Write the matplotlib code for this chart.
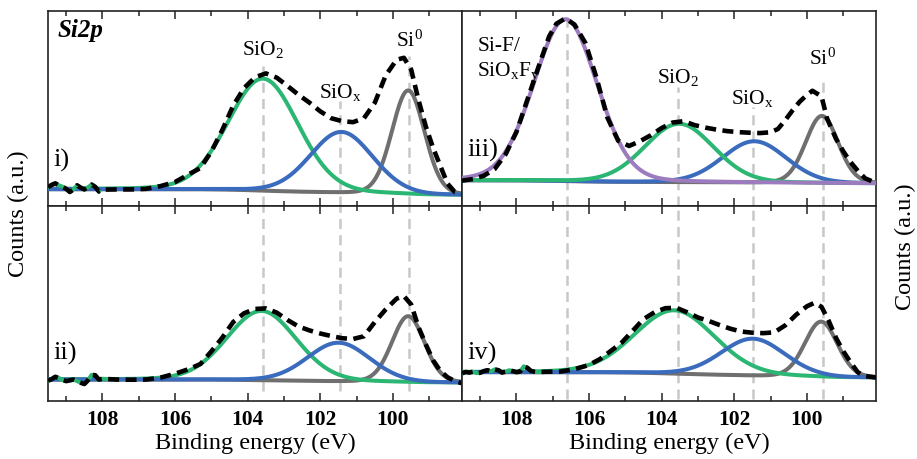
import numpy as np
import matplotlib
matplotlib.use("Agg")
import matplotlib.pyplot as plt
from matplotlib.ticker import MultipleLocator

plt.rcParams["font.family"] = ["Liberation Serif", "DejaVu Serif"]
plt.rcParams["mathtext.fontset"] = "custom"
plt.rcParams["mathtext.rm"] = "Liberation Serif"
plt.rcParams["mathtext.it"] = "Liberation Serif:italic"

# ---------------- measured spectra (binding energy in eV, counts in a.u.) ----------------
be_i = [109.5, 109.4, 109.3, 109.2, 109.1, 109.0, 108.9, 108.8, 108.7, 108.6, 108.5, 108.4,
        108.3, 108.2, 108.1, 108.0, 107.6, 107.2, 106.8, 106.4, 106.0, 105.6, 105.3, 105.0,
        104.7, 104.4, 104.1, 103.8, 103.5, 103.2, 102.9, 102.6, 102.3, 102.0, 101.7, 101.4,
        101.1, 100.8, 100.5, 100.2, 99.9, 99.7, 99.5, 99.3, 99.1, 98.9, 98.7, 98.5, 98.3, 98.1]
counts_i = [9.6, 10.8, 11.6, 10.6, 9.9, 8.8, 7.2, 8.5, 10.6, 9.4, 8.5, 9.6,
            11.0, 9.8, 7.5, 8.4, 8.5, 8.5, 8.8, 10.2, 12.3, 16.5, 19.5, 28.0,
            39.0, 51.5, 60.5, 66.0, 68.0, 65.8, 61.5, 57.0, 53.0, 48.5, 45.0, 43.5,
            43.0, 45.0, 53.0, 67.0, 75.0, 76.0, 70.0, 54.5, 41.0, 30.0, 20.7, 11.5, 7.2, 6.2]

be_ii = be_i
counts_ii = [10.4, 11.2, 12.4, 11.8, 10.8, 10.2, 10.6, 11.0, 10.2, 9.4, 8.7, 10.6,
             13.4, 13.2, 11.0, 11.4, 11.0, 10.9, 11.0, 12.0, 14.0, 16.5, 19.0, 25.5,
             32.5, 40.5, 45.0, 47.2, 47.5, 45.3, 41.5, 38.2, 36.2, 34.6, 33.3, 32.2,
             31.8, 33.2, 40.5, 47.0, 52.5, 53.8, 49.5, 38.0, 29.2, 21.0, 15.5, 12.2, 10.2, 9.1]

be_iii = [109.5, 109.2, 108.9, 108.6, 108.3, 108.0, 107.7, 107.4, 107.1, 106.9, 106.65, 106.4,
          106.1, 105.8, 105.5, 105.2, 104.9, 104.6, 104.3, 104.0, 103.7, 103.4, 103.1, 102.8,
          102.5, 102.2, 101.9, 101.6, 101.3, 101.0, 100.8, 100.6, 100.4, 100.2, 100.0, 99.85,
          99.6, 99.45, 99.2, 99.0, 98.8, 98.6, 98.4, 98.1]
counts_iii = [13.0, 13.8, 15.5, 19.0, 26.5, 38.0, 54.5, 71.0, 87.0, 93.5, 96.2, 93.0,
              83.5, 66.0, 45.5, 33.5, 30.8, 33.2, 36.3, 40.0, 42.8, 43.5, 41.5, 40.2,
              39.2, 38.4, 37.9, 37.6, 37.4, 37.8, 39.5, 44.0, 49.0, 53.5, 57.0, 59.1,
              56.2, 45.0, 34.4, 28.0, 22.5, 18.0, 14.2, 11.8]

be_iv = [109.5, 109.4, 109.3, 109.2, 109.1, 109.0, 108.9, 108.8, 108.7, 108.6, 108.5, 108.4,
         108.3, 108.2, 108.1, 108.0, 107.9, 107.8, 107.7, 107.6, 107.5, 107.4, 107.2, 106.8,
         106.4, 106.0, 105.7, 105.4, 105.1, 104.8, 104.5, 104.2, 103.9, 103.6, 103.3, 103.0,
         102.7, 102.4, 102.1, 101.8, 101.5, 101.2, 100.9, 100.6, 100.3, 100.0, 99.8, 99.6,
         99.4, 99.2, 99.0, 98.8, 98.6, 98.4, 98.1]
counts_iv = [14.2, 14.9, 14.6, 15.0, 14.3, 14.5, 15.3, 15.8, 15.2, 16.2, 15.8, 14.6,
             15.0, 15.8, 15.3, 14.8, 15.1, 17.8, 17.0, 15.4, 15.0, 14.8, 15.0, 15.1,
             16.3, 18.5, 21.5, 25.7, 30.0, 36.0, 42.0, 45.5, 47.6, 47.8, 45.5, 42.8,
             41.0, 38.9, 37.0, 35.6, 35.0, 34.8, 35.2, 38.8, 44.2, 48.6, 50.3, 48.3,
             41.0, 32.3, 25.5, 19.8, 14.7, 12.8, 12.0]

# ---------------- fitted components: centre (eV), height, FWHM (eV) ----------------
comp_names = ["SiF", "SiO2", "SiOx", "Si0"]
centres_i = [None, 103.58, 101.42, 99.58]
heights_i = [None, 57.5, 31.3, 53.3]
fwhm_i = [None, 2.28, 2.03, 1.06]
bg_i = (8.6, 5.6)          # background at high / low binding energy

centres_ii = [None, 103.62, 101.50, 99.58]
heights_ii = [None, 35.6, 19.9, 33.9]
fwhm_ii = [None, 2.26, 2.03, 1.06]
bg_ii = (11.0, 9.4)

centres_iii = [106.65, 103.52, 101.45, 99.59]
heights_iii = [83.0, 30.0, 21.3, 34.5]
fwhm_iii = [2.05, 2.24, 2.07, 1.06]
bg_iii = (13.2, 11.6)

centres_iv = [None, 103.65, 101.49, 99.61]
heights_iv = [None, 32.5, 19.0, 28.4]
fwhm_iv = [None, 2.60, 2.07, 1.06]
bg_iv = (14.8, 12.0)

# reference binding energies marked with dashed guides
ref_left = [103.58, 101.46, 99.55]
ref_right = [106.62, 103.54, 101.50, 99.57]

colors = {"SiF": "#9c7cbf", "SiO2": "#2bb673", "SiOx": "#3b6bbd", "Si0": "#6f6f70"}
guide_color = "#c8c8c8"
GL_MIX = 0.1


def pseudo_voigt(x, c, h, w):
    g = np.exp(-4 * np.log(2) * (x - c) ** 2 / w ** 2)
    l = 1.0 / (1.0 + 4 * (x - c) ** 2 / w ** 2)
    return h * ((1 - GL_MIX) * g + GL_MIX * l)


def shirley(x, total, hi, lo):
    order = np.argsort(x)
    cum = np.cumsum(total[order])
    cum = cum / cum[-1]
    frac = np.empty_like(cum)
    frac[order] = cum
    return lo + (hi - lo) * frac


fig = plt.figure(figsize=(9.17, 4.60), dpi=100)
L, M, R = 48 / 917, 462 / 917, 876 / 917
T, C, B = 1 - 12 / 460, 1 - 207 / 460, 1 - 402 / 460
ax_i = fig.add_axes([L, C, M - L, T - C])
ax_iii = fig.add_axes([M, C, R - M, T - C])
ax_ii = fig.add_axes([L, B, M - L, C - B])
ax_iv = fig.add_axes([M, B, R - M, C - B])

x = np.linspace(109.5, 98.1, 800)

order_lr = ["Si0", "SiO2", "SiOx"]
order_iii = ["Si0", "SiOx", "SiO2", "SiF"]

panels = [
    (ax_i, be_i, counts_i, centres_i, heights_i, fwhm_i, bg_i, "i)", 0.24, 108.1, order_lr),
    (ax_ii, be_ii, counts_ii, centres_ii, heights_ii, fwhm_ii, bg_ii, "ii)", 0.25, 107.45, order_lr),
    (ax_iii, be_iii, counts_iii, centres_iii, heights_iii, fwhm_iii, bg_iii, "iii)", 0.29, None, order_iii),
    (ax_iv, be_iv, counts_iv, centres_iv, heights_iv, fwhm_iv, bg_iv, "iv)", 0.25, 107.15, order_lr),
]

for ax, be, cnt, cen, hgt, fw, bg, tag, tag_y, noise_end, draw_order in panels:
    be = np.asarray(be)
    cnt = np.asarray(cnt)
    peaks = {}
    for name, c, h, w in zip(comp_names, cen, hgt, fw):
        if c is not None:
            peaks[name] = pseudo_voigt(x, c, h, w)
    total = sum(peaks.values())
    back = shirley(x, total, bg[0], bg[1])

    for name in draw_order:
        ax.plot(x, back + peaks[name], color=colors[name], lw=2.9,
                solid_capstyle="butt", zorder=3)
    if noise_end is not None:
        sel = be >= noise_end
        ax.plot(be[sel], cnt[sel], color=colors["SiO2"], lw=2.9, zorder=4)
    ax.plot(be, cnt, color="black", lw=3.3, ls=(0, (2.4, 1.4)), zorder=6)

    ax.set_xlim(109.5, 98.1)
    ax.set_ylim(0, 100)
    ax.set_yticks([])
    ax.xaxis.set_major_locator(MultipleLocator(2))
    ax.xaxis.set_minor_locator(MultipleLocator(1))
    ax.tick_params(axis="x", which="both", direction="in", top=True, bottom=True,
                   color="#222222", width=1.1)
    ax.tick_params(axis="x", which="major", length=5.5)
    ax.tick_params(axis="x", which="minor", length=3.5)
    for sp in ax.spines.values():
        sp.set_color("#222222")
        sp.set_linewidth(1.2)
    ax.text(0.012, tag_y, tag, transform=ax.transAxes, fontsize=19,
            ha="left", va="center", zorder=8)

# dashed guides: top panels start below the peak labels, bottom panels span the frame
guide_kw = dict(color=guide_color, lw=1.8, ls=(0, (4, 2.5)), zorder=2)
for xv, top in zip(ref_left, [72.8, 54.0, 77.0]):
    ax_i.plot([xv, xv], [0, top], **guide_kw)
    ax_ii.plot([xv, xv], [5, 100], **guide_kw)
for xv, top in zip(ref_right, [100.0, 61.0, 51.0, 63.6]):
    ax_iii.plot([xv, xv], [0, top], **guide_kw)
    ax_iv.plot([xv, xv], [1, 100], **guide_kw)

# peak labels
lab = dict(fontsize=15.5, ha="center", va="baseline", zorder=8)
ax_i.text(ref_left[0], 78.0, r"SiO$_2$", **lab)
ax_i.text(ref_left[1], 56.0, r"SiO$_\mathrm{x}$", **lab)
ax_i.text(ref_left[2], 82.0, r"Si$^0$", **lab)
ax_iii.text(109.08, 80.0, "Si-F/", fontsize=15.5, ha="left", va="baseline", zorder=8)
ax_iii.text(109.08, 67.0, r"SiO$_\mathrm{x}$F$_\mathrm{y}$", fontsize=15.5, ha="left",
            va="baseline", zorder=8)
ax_iii.text(ref_right[1], 63.6, r"SiO$_2$", **lab)
ax_iii.text(ref_right[2], 53.0, r"SiO$_\mathrm{x}$", **lab)
ax_iii.text(ref_right[3], 72.8, r"Si$^0$", **lab)

ax_i.text(0.022, 0.905, "Si2p", transform=ax_i.transAxes, fontsize=18,
          fontweight="bold", fontstyle="italic", ha="left", va="center", zorder=8)

# tick labels only on the lower row
for ax in (ax_i, ax_iii):
    ax.tick_params(axis="x", labelbottom=False)
for ax in (ax_ii, ax_iv):
    ax.tick_params(axis="x", labelsize=15.5, pad=6)
    for t in ax.get_xticklabels():
        t.set_fontweight("bold")
    ax.set_xlabel("Binding energy (eV)", fontsize=17.5, labelpad=2)

fig.text(18 / 917, 1 - 214 / 460, "Counts (a.u.)", rotation=90, fontsize=17.5,
         ha="center", va="center")
fig.text(905 / 917, 1 - 247 / 460, "Counts (a.u.)", rotation=90, fontsize=17.5,
         ha="center", va="center")

fig.savefig("out.png", dpi=100)
